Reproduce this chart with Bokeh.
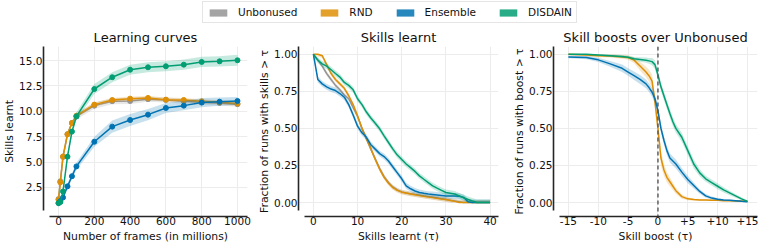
from bokeh.plotting import figure
from bokeh.layouts import column, row
from bokeh.models import (Legend, LegendItem, FixedTicker, NumeralTickFormatter,
                          Span, Range1d)
from bokeh.embed import file_html
from bokeh.resources import INLINE

FONT = "DejaVu Sans"
series_names = ["Unbonused", "RND", "Ensemble", "DISDAIN"]
series_colors = ["#949494", "#de8f05", "#0173b2", "#029e73"]

# ---------------- Panel 1: learning curves ----------------
frames = [0, 10, 25, 50, 75, 100, 200, 300, 400, 500, 600, 700, 800, 900, 1000]
lc_unbonused = [1.35, 3.1, 5.5, 7.75, 8.85, 9.5, 10.56, 11.0, 11.02, 11.2, 11.12, 11.0, 10.9, 10.82, 10.7]
lc_rnd = [1.28, 3.0, 5.55, 7.73, 8.85, 9.57, 10.66, 11.12, 11.25, 11.32, 11.15, 11.12, 10.99, 10.9, 10.76]
lc_ensemble = [0.95, 1.15, 1.5, 2.6, 3.6, 4.57, 7.0, 8.49, 9.14, 9.67, 10.33, 10.56, 10.86, 10.95, 11.02]
lc_disdain = [0.95, 1.05, 2.1, 5.53, 8.0, 9.5, 12.2, 13.36, 14.1, 14.34, 14.44, 14.6, 14.87, 14.93, 15.03]
lc_spread_unbonused = [0.1, 0.2, 0.2, 0.2, 0.25, 0.3, 0.3, 0.3, 0.3, 0.25, 0.25, 0.25, 0.25, 0.25, 0.25]
lc_spread_rnd = [0.1, 0.2, 0.2, 0.2, 0.2, 0.2, 0.2, 0.2, 0.2, 0.2, 0.2, 0.2, 0.2, 0.2, 0.2]
lc_spread_ensemble = [0.1, 0.15, 0.2, 0.25, 0.3, 0.35, 0.5, 0.6, 0.6, 0.55, 0.5, 0.45, 0.45, 0.4, 0.4]
lc_spread_disdain = [0.1, 0.15, 0.2, 0.3, 0.35, 0.4, 0.5, 0.5, 0.5, 0.5, 0.5, 0.5, 0.5, 0.5, 0.55]
lc_xticks = [0, 200, 400, 600, 800, 1000]
lc_yticks = [2.5, 5.0, 7.5, 10.0, 12.5, 15.0]

# ---------------- Panel 2: skills learnt survival ----------------
tau = list(range(0, 41))
sk_unbonused = [1.0, 0.96, 0.92, 0.87, 0.83, 0.79, 0.76, 0.725, 0.70, 0.64, 0.58, 0.50, 0.43, 0.36,
                0.295, 0.23, 0.175, 0.135, 0.105, 0.085, 0.072, 0.065, 0.06, 0.054, 0.049, 0.044,
                0.04, 0.036, 0.03, 0.025, 0.02, 0.015, 0.01, 0.005, 0.0, 0.0, 0.0, 0.0, 0.0, 0.0, 0.0]
sk_rnd = [1.0, 1.0, 0.99, 0.93, 0.87, 0.83, 0.80, 0.77, 0.72, 0.66, 0.585, 0.50, 0.43, 0.365,
          0.29, 0.225, 0.17, 0.13, 0.10, 0.082, 0.07, 0.064, 0.058, 0.053, 0.048, 0.043,
          0.038, 0.034, 0.029, 0.024, 0.02, 0.014, 0.008, 0.0, 0.0, 0.0, 0.0, 0.0, 0.0, 0.0, 0.0]
sk_ensemble = [1.0, 0.83, 0.80, 0.78, 0.765, 0.755, 0.735, 0.71, 0.66, 0.59, 0.515, 0.47, 0.44, 0.39,
               0.36, 0.33, 0.31, 0.28, 0.24, 0.20, 0.16, 0.113, 0.093, 0.078, 0.068, 0.062,
               0.057, 0.054, 0.051, 0.048, 0.045, 0.045, 0.044, 0.042, 0.035, 0.005, 0.0, 0.0, 0.0, 0.0, 0.0]
sk_disdain = [1.0, 0.96, 0.935, 0.92, 0.895, 0.87, 0.846, 0.81, 0.79, 0.76, 0.70, 0.66, 0.61, 0.57,
              0.535, 0.497, 0.45, 0.405, 0.36, 0.32, 0.29, 0.26, 0.235, 0.21, 0.18, 0.157,
              0.135, 0.113, 0.097, 0.082, 0.068, 0.063, 0.058, 0.045, 0.032, 0.021, 0.01, 0.0, 0.0, 0.0, 0.0]
sk_spread = [0.015, 0.015, 0.02, 0.02]
sk_xticks = [0, 10, 20, 30, 40]
frac_yticks = [0.0, 0.25, 0.5, 0.75, 1.0]

# ---------------- Panel 3: skill boosts over Unbonused ----------------
boost = [-15, -12, -10, -8, -6, -5, -4, -3, -2, -1.5, -1, -0.5, 0, 0.5, 1, 1.5, 2, 2.5, 3,
         4, 5, 6, 7, 8, 9, 10, 11, 12, 13, 14, 15]
bs_rnd = [1.0, 0.995, 0.99, 0.988, 0.982, 0.978, 0.96, 0.92, 0.88, 0.855, 0.82, 0.68, 0.50, 0.30,
          0.22, 0.17, 0.14, 0.11, 0.08, 0.04, 0.025, 0.02, 0.018, 0.017, 0.016, 0.015, 0.013,
          0.012, 0.011, 0.01, 0.009]
bs_ensemble = [0.982, 0.978, 0.962, 0.935, 0.905, 0.88, 0.855, 0.83, 0.80, 0.775, 0.745, 0.70, 0.62,
               0.50, 0.42, 0.35, 0.30, 0.28, 0.26, 0.205, 0.155, 0.115, 0.075, 0.045, 0.03, 0.022,
               0.018, 0.015, 0.012, 0.008, 0.005]
bs_disdain = [1.0, 1.0, 0.995, 0.99, 0.985, 0.98, 0.97, 0.965, 0.96, 0.955, 0.95, 0.93, 0.86, 0.78,
              0.72, 0.66, 0.60, 0.545, 0.50, 0.44, 0.35, 0.26, 0.20, 0.16, 0.135, 0.11, 0.085,
              0.065, 0.045, 0.025, 0.008]
bs_spread_rnd = [0.005, 0.008, 0.01, 0.01, 0.012, 0.015, 0.02, 0.03, 0.035, 0.04, 0.045, 0.05, 0.05,
                 0.05, 0.04, 0.035, 0.03, 0.025, 0.02, 0.015, 0.01, 0.008, 0.006, 0.005, 0.005,
                 0.005, 0.005, 0.005, 0.005, 0.005, 0.005]
bs_spread_ensemble = [0.01, 0.012, 0.015, 0.02, 0.025, 0.025, 0.028, 0.03, 0.03, 0.03, 0.03, 0.03,
                      0.03, 0.03, 0.03, 0.03, 0.03, 0.03, 0.03, 0.028, 0.025, 0.02, 0.015, 0.012,
                      0.01, 0.008, 0.006, 0.005, 0.005, 0.005, 0.005]
bs_spread_disdain = [0.005, 0.005, 0.005, 0.008, 0.01, 0.01, 0.012, 0.015, 0.018, 0.02, 0.025, 0.03,
                     0.03, 0.03, 0.03, 0.03, 0.03, 0.03, 0.03, 0.03, 0.03, 0.03, 0.025, 0.02, 0.02,
                     0.02, 0.018, 0.015, 0.012, 0.01, 0.008]
bs_xticks = [-15, -10, -5, 0, 5, 10, 15]
bs_xtick_labels = ["-15", "-10", "-5", "0", "+5", "+10", "+15"]

TOP, BOTTOM, ROW_H = 20, 30, 220


def make_panel(width, bl, br, xr, yr, xb, yb, title, xlabel, ylabel):
    p = figure(width=width, height=ROW_H, x_range=Range1d(*xr), y_range=Range1d(*yr),
               output_backend="svg", toolbar_location=None,
               min_border_left=bl, min_border_right=br,
               min_border_top=TOP, min_border_bottom=BOTTOM)
    p.outline_line_color = None
    p.background_fill_color = "white"
    p.title.text = title
    p.title.align = "center"
    p.title.text_font = FONT
    p.title.text_font_size = "13px"
    p.title.text_font_style = "normal"
    p.title.text_color = "#111111"
    p.title.standoff = 3
    for ax in (p.xaxis[0], p.yaxis[0]):
        ax.axis_line_width = 1.6
        ax.axis_line_color = "#262626"
        ax.major_tick_line_color = None
        ax.minor_tick_line_color = None
        ax.major_tick_out = 0
        ax.major_tick_in = 0
        ax.major_label_text_font = FONT
        ax.major_label_text_font_size = "10.5px"
        ax.major_label_text_color = "#111111"
        ax.axis_label_text_font = FONT
        ax.axis_label_text_font_size = "10.8px"
        ax.axis_label_text_font_style = "normal"
        ax.axis_label_text_color = "#111111"
    p.xaxis[0].major_label_standoff = 0
    p.xaxis[0].axis_label_standoff = 2
    p.yaxis[0].major_label_standoff = 1
    p.yaxis[0].axis_label_standoff = 0
    p.xaxis[0].axis_label = xlabel
    p.yaxis[0].axis_label = ylabel
    p.xaxis[0].bounds = xb
    p.yaxis[0].bounds = yb
    p.grid.grid_line_color = "#ececec"
    p.grid.grid_line_width = 1
    return p


# Panel 1
p1 = make_panel(255, 43, 8, (-84, 1056), (-0.37, 16.39), (-50, 1056), (0.22, 16.39),
                "Learning curves", "Number of frames (in millions)", "Skills learnt")
p1.xaxis.ticker = FixedTicker(ticks=lc_xticks)
p1.yaxis.ticker = FixedTicker(ticks=lc_yticks)
p1.yaxis.formatter = NumeralTickFormatter(format="0.0")
lc_vals = [lc_unbonused, lc_rnd, lc_ensemble, lc_disdain]
lc_spreads = [lc_spread_unbonused, lc_spread_rnd, lc_spread_ensemble, lc_spread_disdain]
for vals, spr, col in zip(lc_vals, lc_spreads, series_colors):
    lo = [v - s for v, s in zip(vals, spr)]
    hi = [v + s for v, s in zip(vals, spr)]
    p1.varea(x=frames, y1=lo, y2=hi, fill_color=col, fill_alpha=0.22)
    p1.line(frames, vals, line_color=col, line_width=1.5)
    p1.scatter(frames, vals, size=5, fill_color=col, line_color=col)

# Panel 2
p2 = make_panel(255, 43, 12, (-3.37, 41.9), (-0.094, 1.052), (-2.1, 41.9), (-0.054, 1.052),
                "Skills learnt", "Skills learnt (\u03c4)", "Fraction of runs with skills > \u03c4")
p2.xaxis.ticker = FixedTicker(ticks=sk_xticks)
p2.yaxis.ticker = FixedTicker(ticks=frac_yticks)
p2.yaxis.formatter = NumeralTickFormatter(format="0.00")
sk_vals = [sk_unbonused, sk_rnd, sk_ensemble, sk_disdain]
for vals, spr, col in zip(sk_vals, sk_spread, series_colors):
    lo = [max(v - spr, 0) for v in vals]
    hi = [min(v + spr, 1) for v in vals]
    p2.varea(x=tau, y1=lo, y2=hi, fill_color=col, fill_alpha=0.22)
    p2.line(tau, vals, line_color=col, line_width=1.5)

# Panel 3
p3 = make_panel(252, 43, 5, (-17.5, 16.68), (-0.094, 1.052), (-16.57, 16.68), (-0.054, 1.052),
                "Skill boosts over Unbonused", "Skill boost (\u03c4)",
                "Fraction of runs with boost > \u03c4")
p3.xaxis.ticker = FixedTicker(ticks=bs_xticks)
p3.xaxis.major_label_overrides = dict(zip(bs_xticks, bs_xtick_labels))
p3.yaxis.ticker = FixedTicker(ticks=frac_yticks)
p3.yaxis.formatter = NumeralTickFormatter(format="0.00")
bs_vals = [bs_rnd, bs_ensemble, bs_disdain]
bs_spreads = [bs_spread_rnd, bs_spread_ensemble, bs_spread_disdain]
for vals, spr, col in zip(bs_vals, bs_spreads, series_colors[1:]):
    lo = [max(v - s, 0) for v, s in zip(vals, spr)]
    hi = [min(v + s, 1) for v, s in zip(vals, spr)]
    p3.varea(x=boost, y1=lo, y2=hi, fill_color=col, fill_alpha=0.22)
    p3.line(boost, vals, line_color=col, line_width=1.5)
p3.add_layout(Span(location=0, dimension="height", line_color="#555555",
                   line_dash="4 3", line_width=1.4))

# Legend strip (legend swatches use placeholder renderers kept outside the visible range)
lf = figure(width=762, height=26, x_range=Range1d(0, 1), y_range=Range1d(0, 1),
            output_backend="svg", toolbar_location=None, min_border=0,
            x_axis_location=None, y_axis_location=None)
lf.outline_line_color = None
lf.grid.visible = False
items = []
for name, col in zip(series_names, series_colors):
    r = lf.quad(left=[-3], right=[-2], top=[-2], bottom=[-3], fill_color=col, fill_alpha=0.85,
                line_color=None)
    items.append(LegendItem(label=name, renderers=[r]))
legend = Legend(items=items, orientation="horizontal", location=(202, 3),
                label_text_font=FONT, label_text_font_size="10.5px",
                label_text_color="#111111",
                glyph_width=22, glyph_height=9, label_height=12, label_standoff=9,
                spacing=21, padding=4, margin=0,
                border_line_color="#cccccc", border_line_width=1,
                background_fill_color="white", background_fill_alpha=1.0)
lf.add_layout(legend)

layout = column(lf, row(p1, p2, p3))
with open("out.html", "w") as f:
    f.write(file_html(layout, INLINE))
